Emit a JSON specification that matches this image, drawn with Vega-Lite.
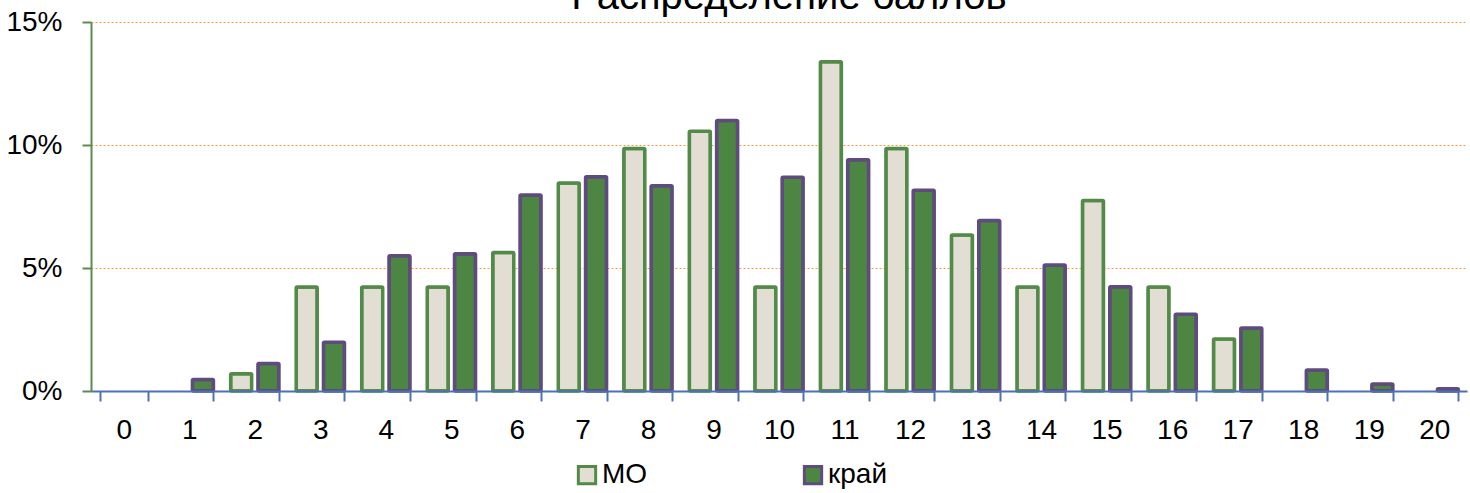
{
  "$schema": "https://vega.github.io/schema/vega-lite/v6.json",
  "autosize": "none",
  "width": 1376,
  "height": 369,
  "padding": {"left": 91, "top": 22, "right": 3, "bottom": 102},
  "background": "white",
  "title": {
    "text": "Распределение баллов",
    "font": "Liberation Sans, Arial, sans-serif",
    "fontSize": 40,
    "fontWeight": "normal",
    "color": "#000000",
    "anchor": "middle",
    "baseline": "alphabetic",
    "offset": -13,
    "dx": 10,
    "dy": 28
  },
  "data": {
    "values": [
      {"score": 2, "series": "MO", "value": 0.704},
      {"score": 3, "series": "MO", "value": 4.225},
      {"score": 4, "series": "MO", "value": 4.225},
      {"score": 5, "series": "MO", "value": 4.225},
      {"score": 6, "series": "MO", "value": 5.634},
      {"score": 7, "series": "MO", "value": 8.451},
      {"score": 8, "series": "MO", "value": 9.859},
      {"score": 9, "series": "MO", "value": 10.563},
      {"score": 10, "series": "MO", "value": 4.225},
      {"score": 11, "series": "MO", "value": 13.38},
      {"score": 12, "series": "MO", "value": 9.859},
      {"score": 13, "series": "MO", "value": 6.338},
      {"score": 14, "series": "MO", "value": 4.225},
      {"score": 15, "series": "MO", "value": 7.746},
      {"score": 16, "series": "MO", "value": 4.225},
      {"score": 17, "series": "MO", "value": 2.113},
      {"score": 1, "series": "край", "value": 0.47},
      {"score": 2, "series": "край", "value": 1.12},
      {"score": 3, "series": "край", "value": 1.98},
      {"score": 4, "series": "край", "value": 5.5},
      {"score": 5, "series": "край", "value": 5.58},
      {"score": 6, "series": "край", "value": 7.97},
      {"score": 7, "series": "край", "value": 8.71},
      {"score": 8, "series": "край", "value": 8.34},
      {"score": 9, "series": "край", "value": 11.0},
      {"score": 10, "series": "край", "value": 8.69},
      {"score": 11, "series": "край", "value": 9.4},
      {"score": 12, "series": "край", "value": 8.16},
      {"score": 13, "series": "край", "value": 6.93},
      {"score": 14, "series": "край", "value": 5.12},
      {"score": 15, "series": "край", "value": 4.24},
      {"score": 16, "series": "край", "value": 3.12},
      {"score": 17, "series": "край", "value": 2.56},
      {"score": 18, "series": "край", "value": 0.85},
      {"score": 19, "series": "край", "value": 0.28},
      {"score": 20, "series": "край", "value": 0.09}
    ]
  },
  "mark": {"type": "bar", "strokeWidth": 3.5, "cornerRadius": 1},
  "encoding": {
    "x": {
      "field": "score",
      "type": "ordinal",
      "scale": {"domain": [0,1,2,3,4,5,6,7,8,9,10,11,12,13,14,15,16,17,18,19,20], "paddingInner": 0.263, "paddingOuter": 0.1315},
      "axis": {
        "title": null,
        "labelAngle": 0,
        "tickBand": "extent",
        "domainColor": "#4A72B2",
        "domainWidth": 2,
        "tickColor": "#4A72B2",
        "tickWidth": 2,
        "tickSize": 10,
        "labelPadding": 15,
        "labelFont": "Liberation Sans, Arial, sans-serif",
        "labelFontSize": 28,
        "labelColor": "#000000",
        "grid": false,
        "zindex": 1
      }
    },
    "xOffset": {
      "field": "series",
      "type": "nominal",
      "scale": {"domain": ["MO", "край"], "paddingInner": 0.23, "paddingOuter": 0}
    },
    "y": {
      "field": "value",
      "type": "quantitative",
      "scale": {"domain": [0, 15], "nice": false},
      "axis": {
        "title": null,
        "values": [0, 5, 10, 15],
        "labelExpr": "datum.value + '%'",
        "domainColor": "#5A8C4F",
        "domainWidth": 2,
        "tickColor": "#5A8C4F",
        "tickWidth": 2,
        "tickSize": 9,
        "labelPadding": 20,
        "labelFont": "Liberation Sans, Arial, sans-serif",
        "labelFontSize": 28,
        "labelColor": "#000000",
        "grid": true,
        "gridColor": "#F79A3E",
        "gridDash": [2, 2],
        "gridWidth": 1,
        "zindex": 0
      }
    },
    "color": {
      "field": "series",
      "type": "nominal",
      "scale": {"domain": ["MO", "край"], "range": ["#E3DED3", "#4D8543"]},
      "legend": {
        "title": null,
        "orient": "none",
        "legendX": 482,
        "legendY": 439,
        "direction": "horizontal",
        "columnPadding": 150,
        "symbolType": "square",
        "symbolSize": 300,
        "symbolStrokeWidth": 3,
        "labelFont": "Liberation Sans, Arial, sans-serif",
        "labelFontSize": 28,
        "labelColor": "#000000",
        "labelOffset": 1
      }
    },
    "stroke": {
      "field": "series",
      "type": "nominal",
      "scale": {"domain": ["MO", "край"], "range": ["#528A47", "#5F4B7E"]},
      "legend": {
        "title": null,
        "orient": "none",
        "legendX": 482,
        "legendY": 439,
        "direction": "horizontal",
        "columnPadding": 150,
        "symbolType": "square",
        "symbolSize": 300,
        "symbolStrokeWidth": 3,
        "labelFont": "Liberation Sans, Arial, sans-serif",
        "labelFontSize": 28,
        "labelColor": "#000000",
        "labelOffset": 1
      }
    }
  },
  "config": {
    "view": {"stroke": null}
  }
}
